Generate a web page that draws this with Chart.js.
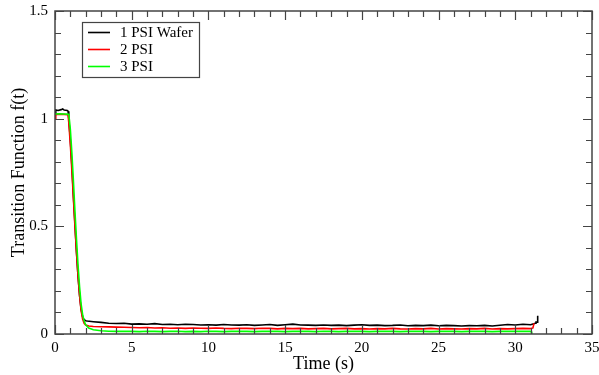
<!DOCTYPE html>
<html>
<head>
<meta charset="utf-8">
<script src="https://cdn.jsdelivr.net/npm/chart.js@4.4.1/dist/chart.umd.min.js"></script>
<style>
  html, body { margin: 0; padding: 0; background: #fff; }
  #wrap { width: 599px; height: 375px; position: relative; }
</style>
</head>
<body>
<div id="wrap"><canvas id="tfChart"></canvas></div>
<script>
// data
const seriesNames = ["1 PSI Wafer", "2 PSI", "3 PSI"];
const seriesColors = ["#000000", "#ff0000", "#00ff00"];

const xTickLabels = [0, 5, 10, 15, 20, 25, 30, 35];
const yTickLabels = [0, 0.5, 1, 1.5];

// 1 PSI Wafer
const timeWafer = [0, 0.05, 0.2, 0.4, 0.5, 0.6, 0.8, 0.85, 0.9, 1.0, 1.1, 1.2, 1.3, 1.4, 1.5, 1.6, 1.7, 1.8, 1.9, 2.0, 2.1, 2.5,
  3, 3.5, 4, 4.5, 5, 5.5, 6, 6.5, 7, 7.5, 8, 8.5, 9, 9.5, 10, 10.5, 11, 11.5, 12, 12.5, 13, 13.5, 14, 14.5, 15, 15.5,
  16, 16.5, 17, 17.5, 18, 18.5, 19, 19.5, 20, 20.5, 21, 21.5, 22, 22.5, 23, 23.5, 24, 24.5, 25, 25.5, 26, 26.5, 27,
  27.5, 28, 28.5, 29, 29.5, 30, 30.5, 31, 31.3, 31.35, 31.45, 31.46];
const valWafer = [1.02, 1.04, 1.038, 1.042, 1.045, 1.04, 1.038, 1.035, 1.0, 0.9, 0.78, 0.64, 0.51, 0.38, 0.27, 0.18, 0.115, 0.08, 0.066, 0.062, 0.06, 0.057,
  0.054, 0.05, 0.049, 0.05, 0.046, 0.047, 0.045, 0.048, 0.044, 0.045, 0.043, 0.045, 0.044, 0.042, 0.043, 0.041, 0.044, 0.042, 0.041, 0.043, 0.04, 0.042, 0.044, 0.04, 0.043, 0.046,
  0.042, 0.041, 0.04, 0.042, 0.04, 0.041, 0.039, 0.041, 0.043, 0.04, 0.041, 0.039, 0.04, 0.042, 0.038, 0.04, 0.039, 0.041, 0.038, 0.04, 0.039, 0.037, 0.039,
  0.038, 0.04, 0.037, 0.041, 0.044, 0.042, 0.045, 0.043, 0.05, 0.055, 0.055, 0.085];

// 2 PSI
const time2psi = [0, 0.05, 0.3, 0.6, 0.85, 0.9, 1.0, 1.1, 1.2, 1.3, 1.4, 1.5, 1.6, 1.7, 1.8, 1.9, 2.0, 2.2, 2.5,
  3, 3.5, 4, 4.5, 5, 5.5, 6, 6.5, 7, 7.5, 8, 8.5, 9, 9.5, 10, 10.5, 11, 11.5, 12, 12.5, 13, 13.5, 14, 14.5, 15, 15.5,
  16, 16.5, 17, 17.5, 18, 18.5, 19, 19.5, 20, 20.5, 21, 21.5, 22, 22.5, 23, 23.5, 24, 24.5, 25, 25.5, 26, 26.5, 27,
  27.5, 28, 28.5, 29, 29.5, 30, 30.5, 31, 31.15, 31.22];
const val2psi = [1.0, 1.02, 1.021, 1.02, 1.018, 0.98, 0.88, 0.76, 0.63, 0.5, 0.38, 0.27, 0.18, 0.11, 0.07, 0.05, 0.042, 0.037, 0.035,
  0.034, 0.033, 0.032, 0.031, 0.03, 0.029, 0.03, 0.028, 0.029, 0.027, 0.028, 0.026, 0.028, 0.027, 0.026, 0.028, 0.026, 0.025, 0.027, 0.026, 0.025, 0.027, 0.026, 0.024, 0.026, 0.025,
  0.026, 0.024, 0.025, 0.026, 0.024, 0.025, 0.026, 0.024, 0.025, 0.023, 0.025, 0.024, 0.026, 0.024, 0.023, 0.025, 0.024, 0.026, 0.023, 0.025, 0.024, 0.023, 0.025,
  0.024, 0.026, 0.023, 0.025, 0.024, 0.025, 0.026, 0.025, 0.028, 0.05];

// 3 PSI
const time3psi = [0, 0.3, 0.6, 0.9, 1.0, 1.1, 1.2, 1.3, 1.4, 1.5, 1.6, 1.7, 1.8, 1.9, 2.0, 2.2, 2.5,
  3, 3.5, 4, 4.5, 5, 5.5, 6, 6.5, 7, 7.5, 8, 8.5, 9, 9.5, 10, 10.5, 11, 11.5, 12, 12.5, 13, 13.5, 14, 14.5, 15, 15.5,
  16, 16.5, 17, 17.5, 18, 18.5, 19, 19.5, 20, 20.5, 21, 21.5, 22, 22.5, 23, 23.5, 24, 24.5, 25, 25.5, 26, 26.5, 27,
  27.5, 28, 28.5, 29, 29.5, 30, 30.5, 31.04, 31.07];
const val3psi = [1.022, 1.023, 1.022, 1.02, 0.95, 0.84, 0.71, 0.57, 0.44, 0.32, 0.22, 0.14, 0.09, 0.06, 0.043, 0.028, 0.02,
  0.015, 0.013, 0.012, 0.013, 0.012, 0.011, 0.013, 0.012, 0.011, 0.012, 0.013, 0.011, 0.012, 0.011, 0.013, 0.012, 0.011, 0.012, 0.013, 0.012, 0.011, 0.012, 0.013, 0.012, 0.011, 0.012,
  0.013, 0.012, 0.011, 0.013, 0.012, 0.011, 0.012, 0.013, 0.012, 0.011, 0.012, 0.013, 0.012, 0.011, 0.012, 0.013, 0.012, 0.011, 0.012, 0.013, 0.012, 0.011, 0.012,
  0.013, 0.012, 0.011, 0.012, 0.013, 0.012, 0.012, 0.012, 0];

const serif = "'Liberation Serif', 'Times New Roman', serif";
const axisColor = "#444";

function toPoints(xs, ys) {
    return xs.map((x, i) => ({ x: x, y: ys[i] }));
}

// inward ticks on all four sides, plus the frame
const frameTicks = {
    id: "frameTicks",
    afterDatasetsDraw(chart) {
        const ctx = chart.ctx;
        const a = chart.chartArea;
        const xs = chart.scales.x, ys = chart.scales.y;
        ctx.save();
        ctx.strokeStyle = axisColor;
        ctx.lineWidth = 1.5;
        ctx.strokeRect(a.left, a.top, a.right - a.left, a.bottom - a.top);
        ctx.lineWidth = 1.2;
        ctx.beginPath();
        for (let v = 0; v <= 35; v++) {
            const px = Math.round(xs.getPixelForValue(v)) + 0.5;
            const len = v % 5 === 0 ? 9 : 6;
            ctx.moveTo(px, a.bottom); ctx.lineTo(px, a.bottom - len);
            ctx.moveTo(px, a.top); ctx.lineTo(px, a.top + len);
        }
        for (let k = 0; k <= 15; k++) {
            const py = Math.round(ys.getPixelForValue(k / 10)) + 0.5;
            const len = k % 5 === 0 ? 9 : 6;
            ctx.moveTo(a.left, py); ctx.lineTo(a.left + len, py);
            ctx.moveTo(a.right, py); ctx.lineTo(a.right - len, py);
        }
        ctx.stroke();
        ctx.restore();
    }
};

// boxed legend in the upper left of the plot
const boxLegend = {
    id: "boxLegend",
    afterDraw(chart) {
        const ctx = chart.ctx;
        const a = chart.chartArea;
        const bx = a.left + 27, by = a.top + 11, bw = 117, bh = 55;
        ctx.save();
        ctx.fillStyle = "#fff";
        ctx.fillRect(bx, by, bw, bh);
        ctx.strokeStyle = axisColor;
        ctx.lineWidth = 1.2;
        ctx.strokeRect(bx + 0.5, by + 0.5, bw, bh);
        ctx.font = "15px " + serif;
        ctx.textBaseline = "middle";
        chart.data.datasets.forEach((ds, i) => {
            const y = by + 10.5 + i * 17;
            ctx.strokeStyle = ds.borderColor;
            ctx.lineWidth = 1.6;
            ctx.beginPath();
            ctx.moveTo(bx + 6, y); ctx.lineTo(bx + 28, y);
            ctx.stroke();
            ctx.fillStyle = "#000";
            ctx.fillText(ds.label, bx + 38, y + 1);
        });
        ctx.restore();
    }
};

const datasets = [
    { label: seriesNames[0], data: toPoints(timeWafer, valWafer), borderColor: seriesColors[0], order: 2 },
    { label: seriesNames[1], data: toPoints(time2psi, val2psi), borderColor: seriesColors[1], order: 1 },
    { label: seriesNames[2], data: toPoints(time3psi, val3psi), borderColor: seriesColors[2], order: 0 }
].map(d => Object.assign(d, { borderWidth: 1.6, pointRadius: 0, fill: false, tension: 0 }));

new Chart(document.getElementById("tfChart"), {
    type: "line",
    data: { datasets: datasets },
    options: {
        responsive: true,
        maintainAspectRatio: false,
        animation: false,
        events: [],
        layout: { padding: 0 },
        plugins: { legend: { display: false }, tooltip: { enabled: false } },
        scales: {
            x: {
                type: "linear",
                min: 0, max: 35,
                afterBuildTicks: s => { s.ticks = xTickLabels.map(v => ({ value: v })); },
                afterFit: s => { s.height = 41; s.paddingRight = 7; s.paddingLeft = 0; },
                grid: { display: false, drawTicks: false },
                border: { display: false },
                ticks: { color: "#000", padding: 5, maxRotation: 0, callback: v => String(v), font: { family: serif, size: 15 } },
                title: { display: true, text: "Time (s)", color: "#000", padding: { top: 0, bottom: 0 }, font: { family: serif, size: 18 } }
            },
            y: {
                type: "linear",
                min: 0, max: 1.5,
                afterBuildTicks: s => { s.ticks = yTickLabels.map(v => ({ value: v })); },
                afterFit: s => { s.width = 55; s.paddingTop = 11; s.paddingBottom = 0; },
                grid: { display: false, drawTicks: false },
                border: { display: false },
                ticks: { color: "#000", padding: 7, callback: v => String(v), font: { family: serif, size: 15 } },
                title: { display: true, text: "Transition Function f(t)", color: "#000", padding: { top: 8, bottom: 0 }, font: { family: serif, size: 18 } }
            }
        }
    },
    plugins: [frameTicks, boxLegend]
});
</script>
</body>
</html>
